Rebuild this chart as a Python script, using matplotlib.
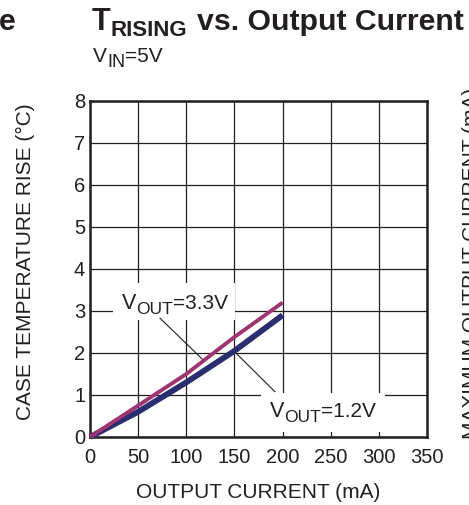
import matplotlib
matplotlib.use("Agg")
import matplotlib.pyplot as plt
from matplotlib.patches import Rectangle

plt.rcParams['font.family'] = ['Liberation Sans', 'DejaVu Sans']

# data
current = [0, 50, 100, 150, 200]          # mA
rise_3v3 = [0, 0.75, 1.5, 2.38, 3.2]      # degC, VOUT=3.3V
rise_1v2 = [0, 0.6, 1.3, 2.05, 2.9]       # degC, VOUT=1.2V
x_ticks = [0, 50, 100, 150, 200, 250, 300, 350]
y_ticks = [0, 1, 2, 3, 4, 5, 6, 7, 8]

W, H = 469, 505
ink = '#231f20'
purple = '#9e3570'
navy = '#2b2e6e'

fig = plt.figure(figsize=(W / 100, H / 100), dpi=100)
ax = fig.add_axes([90 / W, 1 - 437 / H, 337 / W, 336 / H])

ax.plot(current, rise_1v2, color=navy, lw=4.2, solid_capstyle='butt', zorder=3, clip_on=False)
ax.plot(current, rise_3v3, color=purple, lw=2.8, solid_capstyle='butt', zorder=4, clip_on=False)

ax.set_xlim(0, 350)
ax.set_ylim(0, 8)
ax.set_xticks(x_ticks)
ax.set_yticks(y_ticks)
ax.tick_params(axis='both', length=0, labelsize=14.5, colors=ink)
ax.tick_params(axis='x', pad=8)
ax.tick_params(axis='y', pad=3.5)
ax.set_axisbelow(True)
ax.grid(True, color=ink, lw=0.9)
for sp in ax.spines.values():
    sp.set_linewidth(1.8)
    sp.set_color(ink)
    sp.set_zorder(2.5)

# white label boxes that cover the grid
ax.add_patch(Rectangle((24, 2.79), 127, 0.88, facecolor='white', edgecolor='none', zorder=1.5))
ax.add_patch(Rectangle((178, 0.12), 128, 0.93, facecolor='white', edgecolor='none', zorder=1.5))

# leader lines
ax.plot([72.7, 117.7], [2.83, 1.83], color=ink, lw=0.8, zorder=2)
ax.plot([150.2, 192], [2.03, 1.08], color=ink, lw=0.8, zorder=2)

renderer = fig.canvas.get_renderer()


def rich(x_px, base_px, parts):
    # parts: (text, size, drop in px, weight); coords are pixels from the top-left
    x = x_px
    for s, size, drop, weight in parts:
        t = fig.text(x / W, 1 - (base_px + drop) / H, s, fontsize=size, fontweight=weight,
                     ha='left', va='baseline', color=ink, zorder=5)
        x += t.get_window_extent(renderer).width
    return x


def data_px(x, y):
    dx, dy = ax.transData.transform((x, y))
    return dx, H - dy


# curve labels
lx, ly = data_px(33, 3.04)
rich(lx, ly, [('V', 15.5, 0, 'normal'), ('OUT', 12.5, 5, 'normal'), ('=3.3V', 15, 0, 'normal')])
lx, ly = data_px(187, 0.47)
rich(lx, ly, [('V', 15.5, 0, 'normal'), ('OUT', 12.5, 5, 'normal'), ('=1.2V', 15, 0, 'normal')])

# title and condition
rich(92, 30.5, [('T', 22, 0, 'bold'), ('RISING', 16, 5.5, 'bold')])
fig.text(197 / W, 1 - 30.5 / H, 'vs. Output Current', fontsize=21.8, fontweight='bold',
         ha='left', va='baseline', color=ink)
fig.text(-1 / W, 1 - 30.5 / H, 'e', fontsize=21.8, fontweight='bold', ha='left', va='baseline', color=ink)
rich(93, 62, [('V', 15, 0, 'normal'), ('IN', 13, 5, 'normal'), ('=5V', 15, 0, 'normal')])

# axis labels
fig.text(25 / W, 1 - 262 / H, 'CASE TEMPERATURE RISE (°C)', rotation=90, fontsize=15,
         ha='center', va='center', color=ink)
fig.text(258.5 / W, 1 - 492 / H, 'OUTPUT CURRENT (mA)', fontsize=15,
         ha='center', va='center', color=ink)
# clipped label of the neighbouring chart
fig.text(471 / W, 1 - 263 / H, 'MAXIMUM OUTPUT CURRENT (mA)', rotation=90, fontsize=15,
         ha='center', va='center', color=ink)

fig.savefig('out.png', dpi=100)
